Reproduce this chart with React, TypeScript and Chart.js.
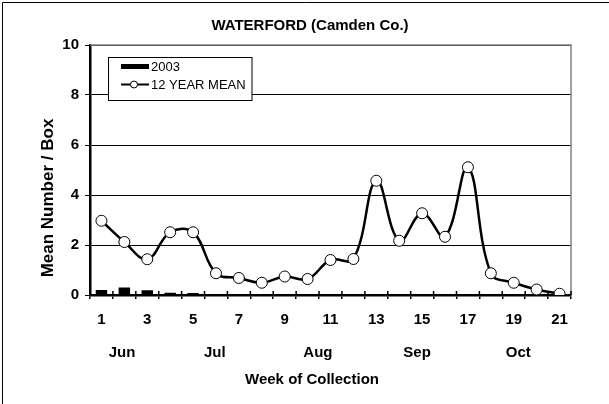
import React, { useEffect, useRef } from 'react';
import { Chart, registerables } from 'chart.js';

Chart.register(...registerables);

const weeks = ['1','2','3','4','5','6','7','8','9','10','11','12','13','14','15','16','17','18','19','20','21'];
const shownTicks = ['1','3','5','7','9','11','13','15','17','19','21'];
const year2003 = [0.2, 0.3, 0.19, 0.09, 0.08, 0, 0, 0, 0, 0, 0, 0, 0, 0, 0, 0, 0, 0, 0, 0, 0];
const mean12 = [2.97, 2.12, 1.43, 2.51, 2.51, 0.87, 0.68, 0.49, 0.74, 0.64, 1.4, 1.44, 4.57, 2.17, 3.27, 2.33, 5.11, 0.87, 0.49, 0.22, 0.05];
const yTicks = [0, 2, 4, 6, 8, 10];
const months = ['Jun', 'Jul', 'Aug', 'Sep', 'Oct'];
const monthWeek = [1.9, 5.95, 10.45, 14.78, 19.2];
const titleText = 'WATERFORD (Camden Co.)';
const xTitle = 'Week of Collection';
const yTitle = 'Mean Number / Box';
const legendLabels = ['2003', '12 YEAR MEAN'];

const FONT = '"Liberation Sans", Arial, sans-serif';

const decor = {
  id: 'decor',
  afterDraw(chart: any) {
    const ctx = chart.ctx;
    const ca = chart.chartArea;
    const xs = chart.scales.x;
    ctx.save();
    // outer frame
    ctx.strokeStyle = '#000';
    ctx.lineWidth = 1;
    ctx.beginPath();
    ctx.moveTo(2.5, 404);
    ctx.lineTo(2.5, 2.5);
    ctx.lineTo(609, 2.5);
    ctx.stroke();
    // plot frame top/right grey
    ctx.strokeStyle = '#808080';
    ctx.lineWidth = 1.5;
    ctx.beginPath();
    ctx.moveTo(ca.left, ca.top);
    ctx.lineTo(ca.right, ca.top);
    ctx.lineTo(ca.right, ca.bottom);
    ctx.stroke();
    // inner part of x tick marks
    ctx.strokeStyle = '#000';
    ctx.lineWidth = 1.5;
    for (let i = 0; i <= weeks.length; i++) {
      const x = xs.getPixelForValue(i - 0.5);
      ctx.beginPath();
      ctx.moveTo(x, ca.bottom - 4);
      ctx.lineTo(x, ca.bottom);
      ctx.stroke();
    }
    // title
    ctx.fillStyle = '#000';
    ctx.textAlign = 'center';
    ctx.textBaseline = 'middle';
    ctx.font = `bold 15px ${FONT}`;
    ctx.fillText(titleText, 310, 26);
    // x title
    ctx.fillText(xTitle, 312, 380);
    // months
    months.forEach((m, i) => {
      ctx.fillText(m, xs.getPixelForValue(monthWeek[i] - 1), 353);
    });
    // y title
    ctx.save();
    ctx.translate(48, 198);
    ctx.rotate(-Math.PI / 2);
    ctx.font = `bold 17px ${FONT}`;
    ctx.fillText(yTitle, 0, 0);
    ctx.restore();
    // legend
    ctx.fillStyle = '#fff';
    ctx.fillRect(108.5, 57.5, 143.5, 43);
    ctx.strokeStyle = '#000';
    ctx.lineWidth = 1;
    ctx.strokeRect(108.5, 57.5, 143.5, 43);
    ctx.fillStyle = '#000';
    ctx.fillRect(121, 64, 28, 5);
    ctx.lineWidth = 2;
    ctx.beginPath();
    ctx.moveTo(121, 84.5);
    ctx.lineTo(149, 84.5);
    ctx.stroke();
    ctx.beginPath();
    ctx.arc(134, 84.5, 3.5, 0, Math.PI * 2);
    ctx.fillStyle = '#fff';
    ctx.fill();
    ctx.lineWidth = 1;
    ctx.stroke();
    ctx.fillStyle = '#000';
    ctx.textAlign = 'left';
    ctx.font = `13px ${FONT}`;
    ctx.fillText(legendLabels[0], 151, 67);
    ctx.fillText(legendLabels[1], 151, 85);
    ctx.restore();
  },
};

export default function App() {
  const ref = useRef<HTMLCanvasElement>(null);
  useEffect(() => {
    if (!ref.current) return;
    const chart = new Chart(ref.current, {
      type: 'bar',
      data: {
        labels: weeks,
        datasets: [
          {
            type: 'line',
            label: legendLabels[1],
            data: mean12,
            borderColor: '#000',
            borderWidth: 2.5,
            tension: 0.4,
            pointRadius: 5.5,
            pointBackgroundColor: '#fff',
            pointBorderColor: '#000',
            pointBorderWidth: 1,
            order: 0,
          } as any,
          {
            type: 'bar',
            label: legendLabels[0],
            data: year2003,
            backgroundColor: '#000',
            barPercentage: 0.5,
            categoryPercentage: 1,
            order: 1,
          },
        ],
      },
      options: {
        responsive: false,
        animation: false,
        devicePixelRatio: 1,
        layout: { padding: { left: 0, top: 45, right: 38, bottom: 0 } },
        plugins: { legend: { display: false }, tooltip: { enabled: false }, title: { display: false } },
        scales: {
          x: {
            type: 'category',
            offset: true,
            grid: { display: true, drawOnChartArea: false, offset: true, tickLength: 4, color: '#000', lineWidth: 1.5 },
            border: { color: '#000', width: 2.5 },
            ticks: {
              autoSkip: false,
              maxRotation: 0,
              color: '#000',
              padding: 12,
              font: { family: FONT, size: 15, weight: 'bold' },
              callback: (v: any, i: number) => (shownTicks.includes(weeks[i]) ? weeks[i] : ''),
            },
            afterFit: (s: any) => { s.height = 109; },
          },
          y: {
            min: yTicks[0],
            max: yTicks[yTicks.length - 1],
            afterBuildTicks: (s: any) => { s.ticks = yTicks.map((v) => ({ value: v })); },
            grid: { color: '#000', lineWidth: 1, tickLength: 5 },
            border: { color: '#000', width: 2.5 },
            ticks: {
              color: '#000',
              padding: 6,
              font: { family: FONT, size: 15, weight: 'bold' },
            },
            afterFit: (s: any) => { s.width = 90; },
          },
        },
      },
      plugins: [decor],
    });
    return () => chart.destroy();
  }, []);
  return (
    <div style={{ position: 'fixed', left: 0, top: 0, width: 609, height: 404, background: '#fff' }}>
      <canvas ref={ref} width={609} height={404} />
    </div>
  );
}
